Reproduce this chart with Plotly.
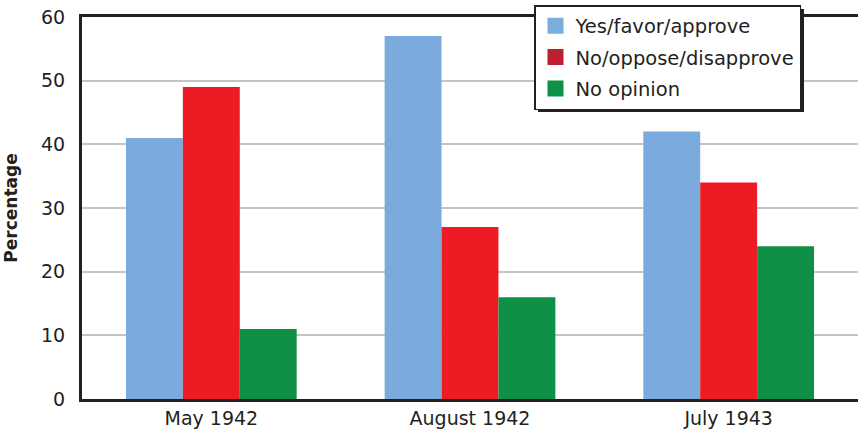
import plotly.graph_objects as go

categories = ["May 1942", "August 1942", "July 1943"]
series_names = ["Yes/favor/approve", "No/oppose/disapprove", "No opinion"]
yes_values = [41, 57, 42]
no_values = [49, 27, 34]
noop_values = [11, 16, 24]
y_ticks = [0, 10, 20, 30, 40, 50, 60]

bar_colors = ["#7AABDC", "#ED1C24", "#0E9146"]
legend_colors = ["#7AACDC", "#BE1E2D", "#0F9146"]
FONT = "DejaVu Sans, sans-serif"
TEXT = "#231F20"

fig = go.Figure()
for name, vals, col in zip(series_names, [yes_values, no_values, noop_values], bar_colors):
    fig.add_trace(go.Bar(x=categories, y=vals, name=name, marker_color=col,
                         marker_line_width=0, showlegend=False))
for i, (name, col) in enumerate(zip(series_names, legend_colors)):
    fig.add_trace(go.Scatter(x=[None], y=[None], mode="markers", name=name,
                             legendgroup=f"g{i}",
                             marker=dict(symbol="square", size=22, color=col)))

W, H = 860, 432
ml, mr, mt, mb = 82, 2, 17, 33
pw, ph = W - ml - mr, H - mt - mb
# legend box in pixels (drop shadow drawn behind it)
lx0, ly0 = 534, 5
lw, lh = 266, 103
def px2x(px): return (px - ml) / pw
def py2y(py): return (H - mb - py) / ph

fig.add_shape(type="rect", xref="paper", yref="paper",
              x0=px2x(lx0 + 4), x1=px2x(lx0 + lw + 4),
              y0=py2y(ly0 + lh + 4), y1=py2y(ly0 + 4),
              fillcolor=TEXT, line_width=0, layer="above")

fig.update_layout(
    width=W, height=H,
    margin=dict(l=ml, r=mr, t=mt, b=mb, autoexpand=False),
    paper_bgcolor="white", plot_bgcolor="white",
    barmode="group", bargap=0.34, bargroupgap=0,
    font=dict(family=FONT, size=19, color=TEXT),
    legend=dict(x=px2x(lx0), y=py2y(ly0), xanchor="left", yanchor="top",
                bgcolor="white", bordercolor=TEXT, borderwidth=1.5,
                font=dict(size=19.5, color=TEXT), tracegroupgap=3,
                itemsizing="trace"),
    xaxis=dict(showline=True, linecolor=TEXT, linewidth=3, mirror=True,
               ticks="", tickfont=dict(size=19), showgrid=False, automargin=False),
    yaxis=dict(range=[0, 60], tickvals=y_ticks, showline=True, linecolor=TEXT,
               linewidth=3, ticks="", showgrid=True, gridcolor="#C4C4C4",
               gridwidth=1.5, zeroline=False, tickfont=dict(size=19),
               ticklabelstandoff=10, automargin=False,
               title=dict(text="<b>Percentage</b>", font=dict(size=17), standoff=20)),
)
fig.write_html("out.html", config={"displayModeBar": False},
               post_script="document.body.style.margin='0';")
